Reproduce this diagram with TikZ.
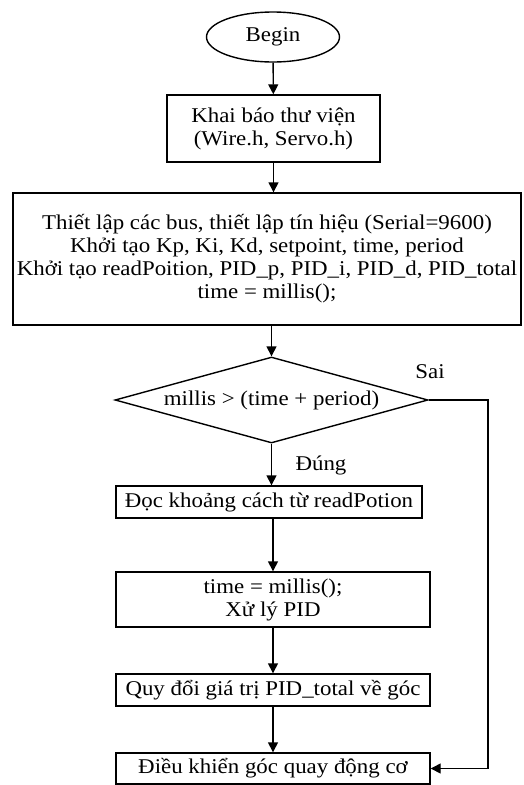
\documentclass[tikz,border=0pt]{standalone}
\usepackage{fontspec}
\setmainfont{Liberation Serif}[FakeStretch=1.09]
\usetikzlibrary{shapes.geometric, arrows.meta}

\begin{document}
\begin{tikzpicture}[x=1pt, y=-1pt,
  every node/.style={font=\fontsize{21}{23}\selectfont, inner sep=0pt},
  box/.style={draw, line width=1.4pt, align=center},
  arr/.style={line width=1.4pt, -{Triangle[length=10pt, width=10pt]}}]
\useasboundingbox (0,0) rectangle (523,785);
\node [box, ellipse, minimum width=133, minimum height=50] (begin) at (273,37) {Begin};
\node [box, minimum width=213, minimum height=67] (khai) at (273.5,128.5) {Khai báo thư viện\\(Wire.h, Servo.h)};
\node [box, minimum width=508, minimum height=132] (setup) at (267,259) {Thiết lập các bus, thiết lập tín hiệu (Serial=9600)\\Khởi tạo Kp, Ki, Kd, setpoint, time, period\\Khởi tạo readPoition, PID\_p, PID\_i, PID\_d, PID\_total\\time = millis();};
\node [box, diamond, aspect=3.6, minimum width=313, minimum height=86] (cond) at (271.5,400) {millis > (time + period)};
\node [box, minimum width=306, minimum height=32] (read) at (269,502) {Đọc khoảng cách từ readPotion};
\node [box, minimum width=314, minimum height=55] (pid) at (273,599.5) {time = millis();\\Xử lý PID};
\node [box, minimum width=314, minimum height=32] (quy) at (273,690) {Quy đổi giá trị PID\_total về góc};
\node [box, minimum width=314, minimum height=31] (dk) at (273,768.5) {Điều khiển góc quay động cơ};
\node (sai) at (430,372) {Sai};
\node (dung) at (321,465) {Đúng};
\coordinate (bend) at (488,400);
% main flow
\draw [arr] (begin) -- (khai);
\draw [arr] (khai.south) -- (khai.south |- setup.north);
\draw [arr] (cond.north |- setup.south) -- (cond.north);
\draw [arr] (cond.south) -- (cond.south |- read.north);
\draw [arr] (pid.north |- read.south) -- (pid.north);
\draw [arr] (pid) -- (quy);
\draw [arr] (quy) -- (dk);
% false branch
\draw [arr] (cond.east) -- (bend) |- (dk.east);
\end{tikzpicture}
\end{document}
